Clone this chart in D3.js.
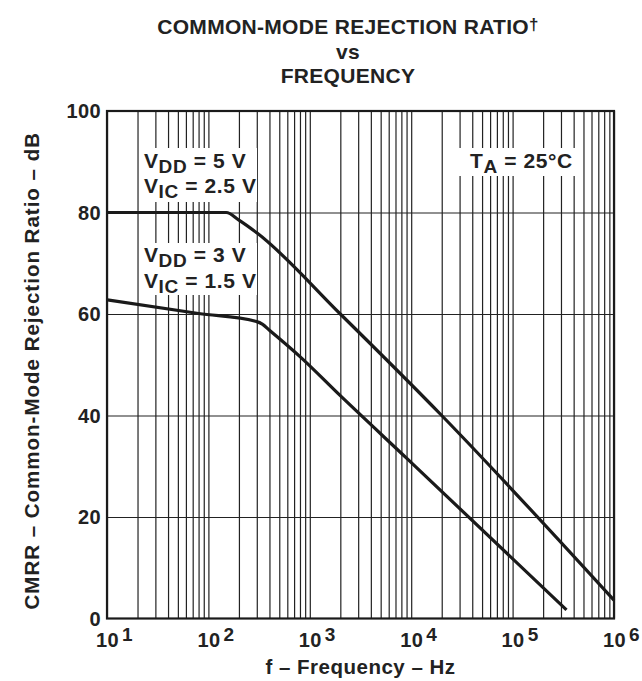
<!DOCTYPE html>
<html>
<head>
<meta charset="utf-8">
<script src="https://cdn.jsdelivr.net/npm/d3@7"></script>
<style>
  body { margin: 0; background: #fff; }
  text { font-family: "Liberation Sans", Arial, sans-serif; font-weight: bold; fill: #222; }
</style>
</head>
<body>
<div id="chart"></div>
<script>
// values (frequency in Hz, CMRR in dB)
const curve5V = [
  [10, 80], [150, 80], [200, 78.5], [300, 76], [2000, 60], [20000, 40], [1e6, 3.6]
];
const curve3V = [
  [10, 62.8], [80, 60.1], [300, 58.5], [340, 58.0], [400, 56.8], [800, 51.6],
  [2000, 43.9], [9000, 31.6], [340000, 1.7]
];
const decades = [1e1, 1e2, 1e3, 1e4, 1e5, 1e6];
const yTicks = [0, 20, 40, 60, 80, 100];
const titleLines = ["COMMON-MODE REJECTION RATIO", "vs", "FREQUENCY"];

const W = 642, H = 681;
const mL = 107, mR = 614, mT = 111, mB = 618.5;

const svg = d3.select("#chart").append("svg").attr("width", W).attr("height", H);

const x = d3.scaleLog().domain([10, 1e6]).range([mL, mR]);
const y = d3.scaleLinear().domain([0, 100]).range([mB, mT]);

// minor + major vertical grid
let minor = [];
decades.slice(0, -1).forEach(d => { for (let k = 2; k <= 9; k++) minor.push(d * k); });
const grid = svg.append("g");
grid.append("g")
  .attr("transform", `translate(0,${mB})`)
  .call(d3.axisBottom(x).tickValues(minor.concat(decades)).tickSize(-(mB - mT)).tickFormat(""))
  .call(g => g.select(".domain").remove())
  .call(g => g.selectAll("line").attr("stroke", "#222").attr("stroke-width", 1.2));
grid.append("g")
  .attr("transform", `translate(${mL},0)`)
  .call(d3.axisLeft(y).tickValues([20, 40, 60, 80]).tickSize(-(mR - mL)).tickFormat(""))
  .call(g => g.select(".domain").remove())
  .call(g => g.selectAll("line").attr("stroke", "#222").attr("stroke-width", 1.2));

// white label boxes cover the grid
const boxes = [
  {x: 139, y: 148, w: 118, h: 54},
  {x: 139, y: 243, w: 118, h: 52},
  {x: 459, y: 148, w: 121, h: 28}
];
svg.selectAll("rect.box").data(boxes).enter().append("rect")
  .attr("class", "box")
  .attr("x", d => d.x).attr("y", d => d.y).attr("width", d => d.w).attr("height", d => d.h)
  .attr("fill", "#fff");

// curves
const line = d3.line().x(d => x(d[0])).y(d => y(d[1])).curve(d3.curveMonotoneX);
[curve5V, curve3V].forEach(c => {
  svg.append("path").datum(c).attr("d", line)
    .attr("fill", "none").attr("stroke", "#1a1a1a").attr("stroke-width", 3.2)
    .attr("stroke-linecap", "butt");
});

// frame
svg.append("rect").attr("x", mL).attr("y", mT).attr("width", mR - mL).attr("height", mB - mT)
  .attr("fill", "none").attr("stroke", "#1a1a1a").attr("stroke-width", 2.2);

// y tick labels
svg.append("g").selectAll("text").data(yTicks).enter().append("text")
  .attr("x", mL - 6).attr("y", d => y(d) + 7)
  .attr("text-anchor", "end").attr("font-size", 20).attr("letter-spacing", 0.4)
  .text(d => d);

// x tick labels 10^n
const xl = svg.append("g").selectAll("text").data(decades).enter().append("text")
  .attr("x", d => x(d) - 11).attr("y", 647)
  .attr("font-size", 20).attr("letter-spacing", 0.4);
xl.append("tspan").text("10");
xl.append("tspan").attr("dx", 3).attr("dy", -6).attr("font-size", 19).text(d => Math.round(Math.log10(d)));

// title
svg.append("g").selectAll("text").data(titleLines).enter().append("text")
  .attr("x", 348).attr("y", (d, i) => 34 + i * 24.5)
  .attr("text-anchor", "middle").attr("font-size", 21).attr("letter-spacing", 0.3)
  .each(function(d, i) {
    d3.select(this).append("tspan").text(d);
    if (i === 0) d3.select(this).append("tspan").attr("dy", -4).attr("font-size", 17).text("†");
  });

// axis titles
svg.append("text").attr("x", (mL + mR) / 2).attr("y", 674).attr("text-anchor", "middle")
  .attr("font-size", 20.5).attr("letter-spacing", 0.5).text("f – Frequency – Hz");
svg.append("text").attr("transform", `translate(39,${(mT + mB) / 2 + 6}) rotate(-90)`)
  .attr("text-anchor", "middle").attr("font-size", 20.5).attr("letter-spacing", 1.0)
  .text("CMRR – Common-Mode Rejection Ratio – dB");

// annotations with subscripts
function label(px, py, main, sub, rest) {
  const t = svg.append("text").attr("x", px).attr("y", py).attr("font-size", 21).attr("letter-spacing", 0.6);
  t.append("tspan").text(main);
  t.append("tspan").attr("dy", 5).attr("font-size", 19).text(sub);
  t.append("tspan").attr("dy", -5).text(rest);
}
label(144, 168, "V", "DD", " = 5 V");
label(144, 193, "V", "IC", " = 2.5 V");
label(144, 262, "V", "DD", " = 3 V");
label(144, 288, "V", "IC", " = 1.5 V");
label(470, 168, "T", "A", " = 25°C");
</script>
</body>
</html>
